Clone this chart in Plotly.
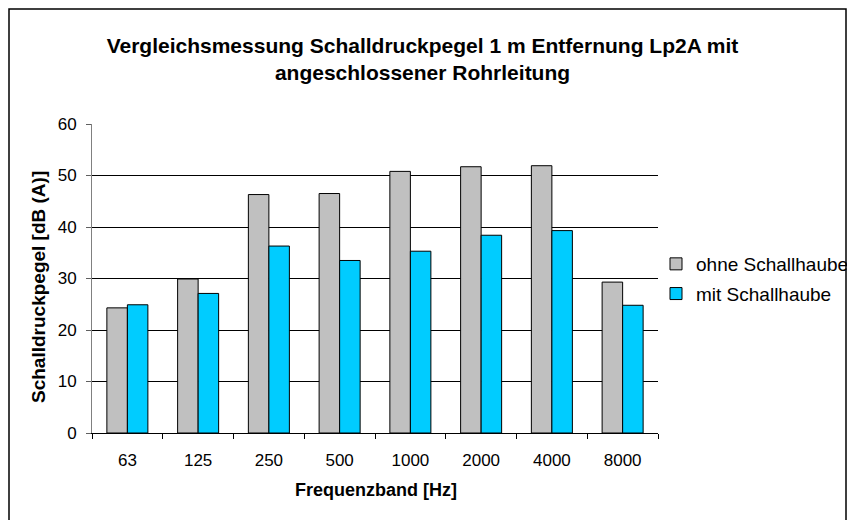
import plotly.graph_objects as go

categories = ["63", "125", "250", "500", "1000", "2000", "4000", "8000"]
ohne_schallhaube = [24.3, 29.9, 46.3, 46.5, 50.8, 51.7, 51.9, 29.3]
mit_schallhaube = [24.9, 27.1, 36.3, 33.5, 35.3, 38.4, 39.3, 24.8]

FONT = "Liberation Sans, Arial, sans-serif"

# page body has an 8px margin; work in figure coordinates
OFF = 8
W, H = 855 - OFF, 520 - OFF
L, R, T, B = 92 - OFF, 658 - OFF, 124 - OFF, 433 - OFF
pw, ph = R - L, B - T

def px(x):
    return (x - L) / pw

def py(y):
    return (B - y) / ph

fig = go.Figure()
fig.add_trace(go.Bar(x=categories, y=ohne_schallhaube, name="ohne Schallhaube",
                     legendgroup="a",
                     marker=dict(color="#C0C0C0", line=dict(color="#000000", width=1))))
fig.add_trace(go.Bar(x=categories, y=mit_schallhaube, name="mit Schallhaube",
                     legendgroup="b",
                     marker=dict(color="#00CCFF", line=dict(color="#000000", width=1))))

fig.update_layout(
    width=W, height=H,
    margin=dict(l=L, r=W - R, t=T, b=H - B, autoexpand=False),
    paper_bgcolor="white", plot_bgcolor="white",
    font=dict(family=FONT, color="black", size=16),
    barmode="group", bargap=0.42, bargroupgap=0,
    title=dict(text="<b>Vergleichsmessung Schalldruckpegel 1 m Entfernung Lp2A mit<br>angeschlossener Rohrleitung</b>",
               x=414.5 / W, xanchor="center", y=1 - 45 / H, yanchor="middle",
               font=dict(family=FONT, size=21, color="black")),
    legend=dict(x=px(648), xanchor="left", y=py(237), yanchor="top",
                font=dict(family=FONT, size=19, color="black"),
                bgcolor="rgba(0,0,0,0)", borderwidth=0,
                traceorder="grouped", tracegroupgap=2),
    showlegend=True,
    xaxis=dict(type="category", tickson="boundaries", ticks="outside", ticklen=5,
               tickcolor="black", showline=True, linecolor="black", linewidth=1,
               showgrid=False, tickfont=dict(size=17), ticklabelstandoff=12,
               fixedrange=True),
    yaxis=dict(range=[0, 60], dtick=10, ticks="outside", ticklen=5, tickcolor="#606060",
               showline=True, linecolor="#808080", linewidth=1,
               showgrid=True, gridcolor="black", gridwidth=1,
               zeroline=False, tickfont=dict(size=17), ticklabelstandoff=6,
               fixedrange=True),
    annotations=[
        dict(text="<b>Frequenzband [Hz]</b>", xref="paper", yref="paper",
             x=px(376 - OFF), y=py(490 - OFF), xanchor="center", yanchor="middle",
             showarrow=False, font=dict(family=FONT, size=18, color="black")),
        dict(text="<b>Schalldruckpegel [dB (A)]</b>", xref="paper", yref="paper",
             x=px(38 - OFF), y=py(287 - OFF), xanchor="center", yanchor="middle",
             textangle=-90, showarrow=False, font=dict(family=FONT, size=19, color="black")),
    ],
)

fig.add_shape(type="rect", xref="paper", yref="paper",
              x0=px(9 - OFF), x1=px(846 - OFF), y0=py(530 - OFF), y1=py(OFF - 7),
              line=dict(color="black", width=1.5), fillcolor="rgba(0,0,0,0)", layer="below")

fig.write_html("out.html")
